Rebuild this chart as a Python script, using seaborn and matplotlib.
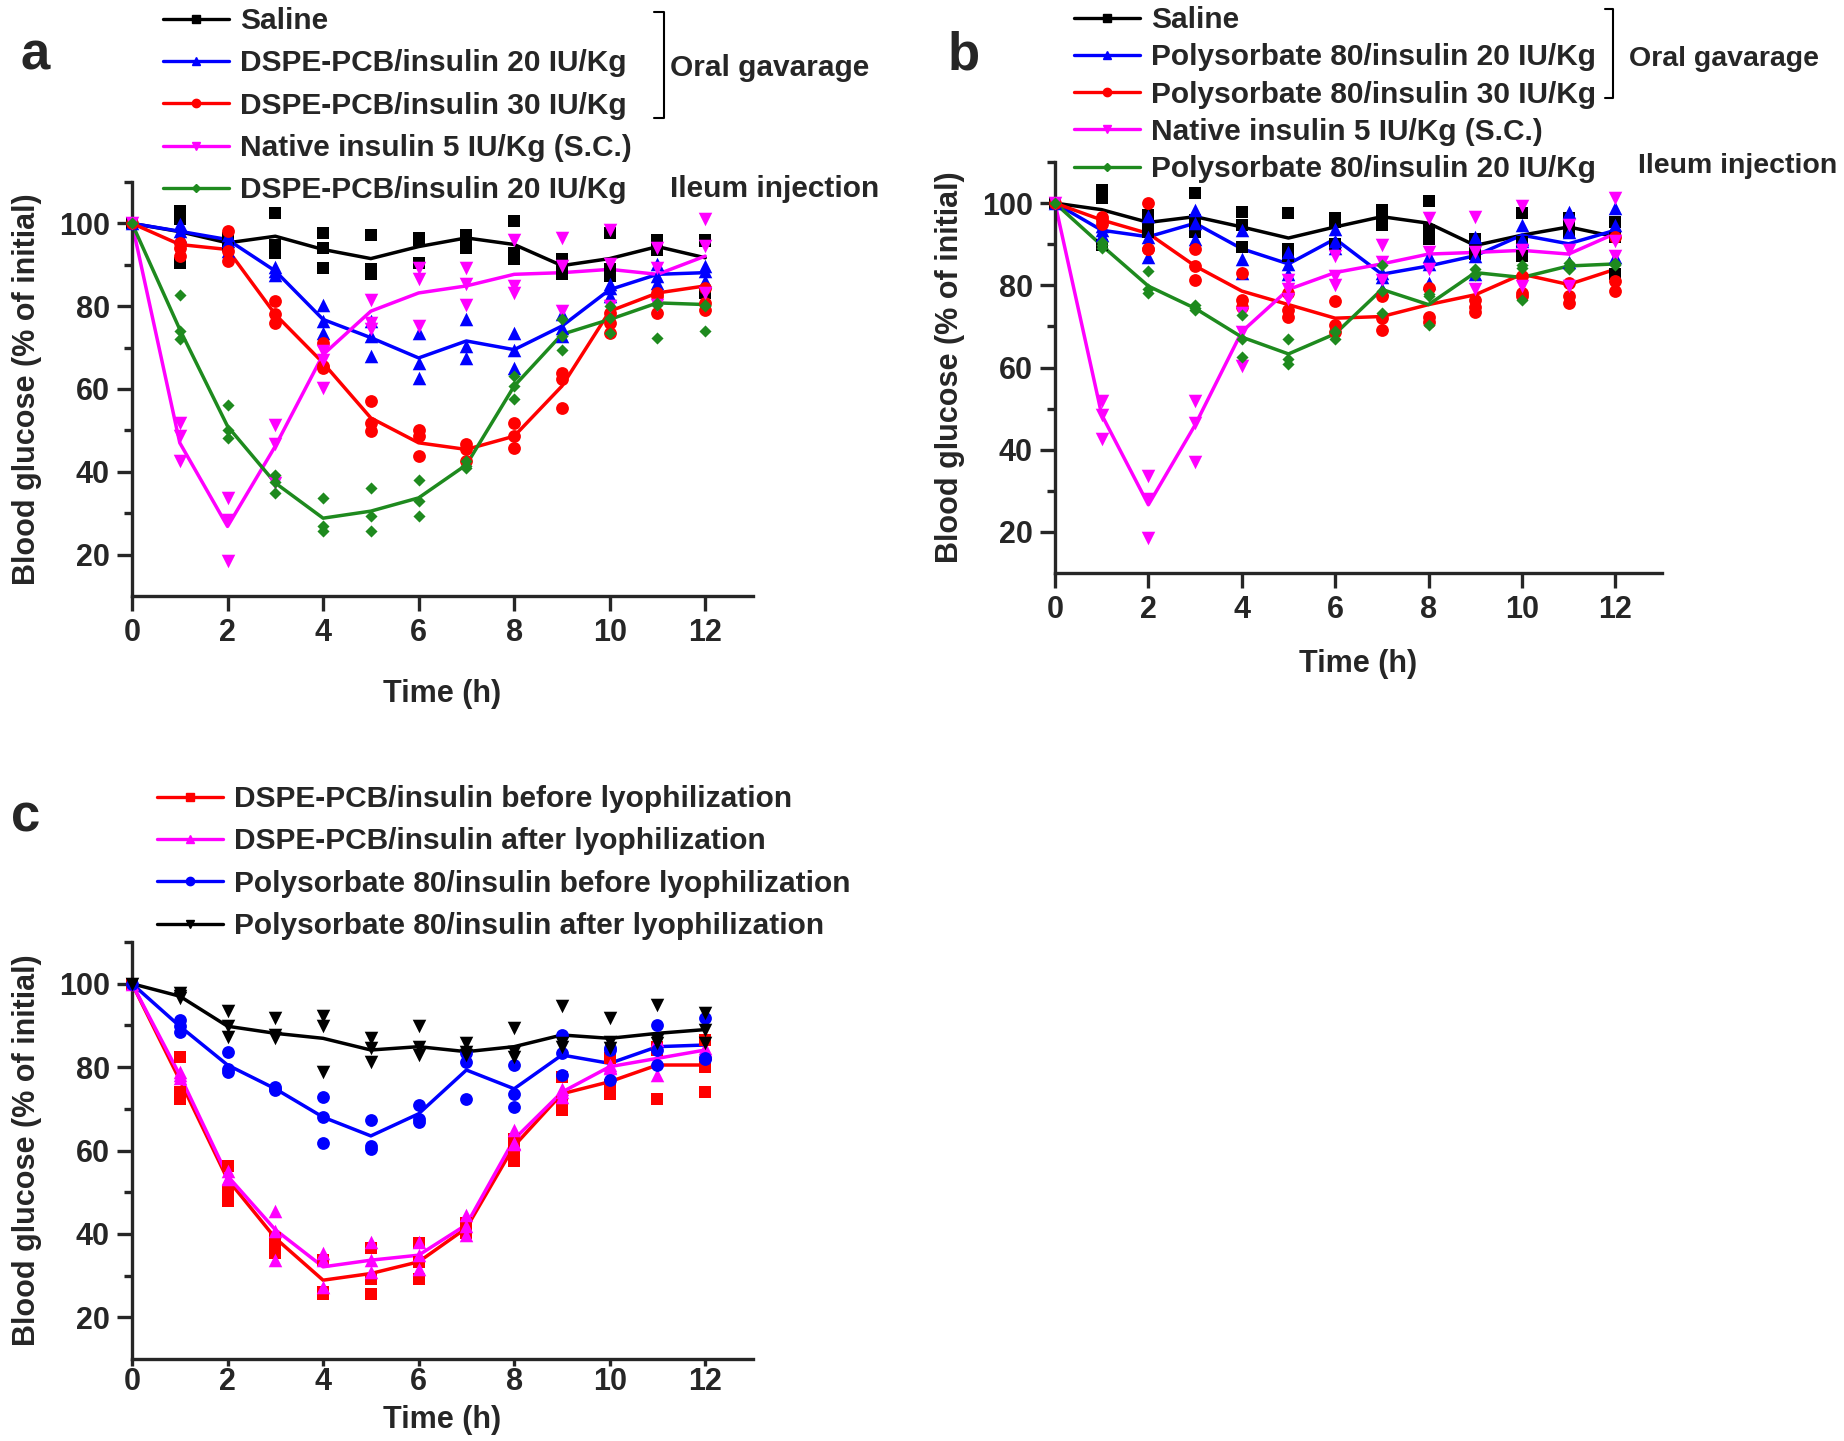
import matplotlib
matplotlib.use("Agg")
import pandas as pd
import matplotlib.pyplot as plt
from matplotlib.lines import Line2D
from matplotlib.ticker import FixedLocator
import seaborn as sns

sns.set_style("ticks")
plt.rcParams["font.family"] = ["Liberation Sans", "DejaVu Sans"]
plt.rcParams["font.weight"] = "bold"
plt.rcParams["axes.labelweight"] = "bold"

# time points (h)
time_h = list(range(13))

# ---- panel a : DSPE-PCB/insulin ----
a_saline_mean = [100, 98.0, 95.3, 96.9, 93.7, 91.5, 94.4, 96.5, 94.9, 89.8, 91.5, 94.4, 91.7]
a_saline_reps = [[100], [103.0, 101.0, 90.5], [96.5, 95.0, 94.5], [102.6, 94.9, 92.9],
                 [97.7, 94.1, 89.3], [97.3, 88.9, 87.7], [96.1, 96.5, 90.5], [97.3, 95.7, 94.1],
                 [100.6, 92.9, 91.3], [91.3, 89.7, 87.7], [97.7, 89.0, 87.3], [96.1, 93.7, 93.5],
                 [95.7, 96.0, 83.2]]
a_d20_mean = [100, 98.1, 96.1, 88.5, 76.8, 72.4, 67.5, 71.6, 69.5, 75.2, 84.0, 87.7, 88.1]
a_d20_reps = [[100], [99.8, 98.1, 96.9], [97.3, 95.7, 93.3], [89.5, 88.5, 87.5],
              [80.4, 76.5, 73.6], [76.4, 72.8, 67.9], [73.6, 66.2, 62.7], [76.8, 70.3, 67.5],
              [73.6, 69.5, 65.1], [78.0, 74.8, 72.8], [85.3, 84.3, 82.4], [90.1, 87.3, 85.7],
              [89.7, 88.6, 86.1]]
a_d30_mean = [100, 94.9, 93.7, 78.0, 66.3, 53.0, 47.0, 45.4, 48.6, 60.7, 78.8, 83.2, 84.9]
a_d30_reps = [[100], [95.3, 94.1, 92.1], [98.1, 93.3, 90.9], [81.2, 78.0, 76.0],
              [71.2, 65.5, 65.1], [57.1, 51.8, 49.8], [50.2, 48.6, 43.8], [46.6, 45.4, 42.5],
              [51.8, 48.6, 45.8], [63.9, 62.3, 55.4], [78.4, 76.0, 73.6], [83.2, 82.4, 78.4],
              [84.4, 80.8, 79.2]]
a_native_mean = [100, 47.0, 26.8, 46.2, 68.3, 78.8, 83.2, 84.9, 87.7, 88.1, 88.9, 87.7, 92.1]
a_native_reps = [[100], [51.8, 48.6, 42.5], [33.7, 28.3, 18.4], [51.4, 46.6, 37.3],
                 [69.1, 67.1, 60.3], [81.6, 76.0, 74.4], [89.3, 86.5, 75.2], [89.3, 85.3, 80.4],
                 [96.1, 84.9, 83.2], [96.5, 89.7, 78.8], [98.5, 90.1, 80.0], [94.1, 89.3, 80.4],
                 [101.0, 94.5, 83.2]]
a_ileum_mean = [100, 74.4, 51.0, 37.3, 28.8, 30.5, 33.7, 41.7, 60.7, 73.2, 76.8, 80.8, 80.4]
a_ileum_reps = [[100], [82.8, 74.0, 72.0], [56.2, 50.0, 48.2], [39.3, 37.5, 34.9],
                [33.7, 26.8, 25.6], [36.1, 29.3, 25.6], [38.1, 33.0, 29.3], [42.5, 41.3, 41.0],
                [63.1, 60.7, 57.5], [77.0, 72.8, 69.5], [80.0, 77.2, 73.6], [80.8, 80.4, 72.4],
                [80.4, 80.0, 74.0]]

# ---- panel b : Polysorbate 80/insulin ----
b_saline_mean = [100, 98.4, 95.3, 96.7, 94.2, 91.5, 94.2, 96.7, 95.1, 89.7, 92.2, 94.2, 91.8]
b_saline_reps = [[100], [103.3, 101.2, 89.7], [97.1, 93.8, 93.0], [102.5, 95.9, 93.0],
                 [97.9, 94.6, 89.3], [97.5, 88.9, 87.2], [96.3, 95.5, 90.1], [98.4, 96.3, 94.6],
                 [100.4, 93.4, 91.3], [91.3, 88.9, 87.6], [97.5, 90.5, 87.2], [96.3, 93.8, 93.0],
                 [95.5, 91.8, 82.7]]
b_p20_mean = [100, 93.4, 91.8, 95.1, 88.9, 85.2, 91.3, 82.7, 84.7, 87.2, 92.2, 90.1, 93.4]
b_p20_reps = [[100], [94.5, 93.4, 92.2], [96.8, 91.8, 86.8], [98.4, 95.1, 91.3],
              [93.4, 86.4, 83.1], [88.0, 85.2, 82.7], [93.8, 90.9, 89.0], [83.1, 81.9, 79.0],
              [87.2, 85.2, 80.6], [91.7, 87.2, 82.7], [94.6, 91.3, 90.7], [97.9, 93.0, 85.6],
              [98.8, 94.6, 86.8]]
b_p30_mean = [100, 95.9, 92.6, 84.7, 78.6, 75.3, 72.0, 72.4, 75.3, 77.7, 82.7, 80.2, 83.9]
b_p30_reps = [[100], [96.7, 95.9, 95.0], [100.0, 88.9, 88.9], [88.9, 84.7, 81.4],
              [83.1, 76.5, 74.8], [78.1, 74.0, 72.4], [76.1, 70.3, 68.7], [77.3, 72.0, 69.1],
              [79.4, 72.4, 71.1], [76.5, 74.8, 73.6], [82.3, 78.1, 77.3], [80.6, 77.3, 75.7],
              [91.8, 81.0, 78.6]]
b_native_mean = [100, 48.5, 26.6, 46.0, 68.7, 79.0, 83.1, 85.2, 87.6, 88.0, 88.5, 87.6, 92.6]
b_native_reps = [[100], [51.8, 48.5, 42.7], [33.6, 28.0, 18.4], [51.8, 46.4, 36.9],
                 [73.2, 68.7, 60.4], [81.4, 79.0, 76.6], [87.2, 82.3, 80.0], [89.7, 85.6, 81.4],
                 [96.3, 88.0, 83.9], [96.7, 88.0, 79.0], [99.2, 88.5, 79.8], [94.6, 88.5, 79.8],
                 [101.2, 90.9, 87.2]]
b_ileum_mean = [100, 89.7, 79.8, 74.4, 67.4, 63.3, 68.2, 79.0, 75.3, 83.1, 81.9, 84.7, 85.2]
b_ileum_reps = [[100], [90.5, 89.7, 89.0], [83.5, 79.0, 78.1], [75.3, 74.4, 74.0],
                [72.8, 67.0, 62.5], [67.0, 62.1, 60.8], [69.0, 68.7, 67.0], [85.0, 78.6, 73.2],
                [78.0, 77.5, 70.3], [84.0, 82.7, 82.5], [85.0, 84.3, 76.5], [85.5, 84.7, 84.0],
                [85.5, 85.2, 85.0]]

# ---- panel c : before / after lyophilization ----
c_dspe_before_mean = [100, 76.9, 53.1, 39.0, 28.9, 30.5, 33.3, 41.4, 61.1, 73.6, 76.5, 80.5, 80.5]
c_dspe_before_reps = [[100], [82.5, 74.0, 72.4], [56.3, 50.2, 47.8], [39.0, 36.5, 35.3],
                      [33.7, 26.0, 25.6], [36.5, 29.3, 25.6], [37.7, 33.3, 29.3], [42.6, 41.4, 40.2],
                      [62.7, 60.3, 57.5], [77.7, 71.6, 69.6], [82.1, 75.6, 73.6], [84.9, 84.1, 72.4],
                      [86.5, 80.1, 74.0]]
c_dspe_after_mean = [100, 78.1, 53.9, 41.0, 32.1, 33.7, 34.9, 42.2, 62.7, 74.0, 80.1, 82.1, 84.1]
c_dspe_after_reps = [[100], [78.9, 78.0, 77.3], [55.1, 53.5, 53.1], [45.4, 40.6, 33.7],
                     [35.3, 33.7, 27.3], [38.1, 33.7, 30.9], [38.0, 34.9, 31.7], [44.6, 42.0, 39.8],
                     [64.8, 61.9, 61.5], [74.8, 74.0, 72.8], [80.5, 80.0, 79.7], [86.5, 81.7, 78.1],
                     [84.5, 84.1, 83.7]]
c_p80_before_mean = [100, 89.8, 80.5, 74.8, 68.0, 63.5, 68.8, 79.3, 74.8, 82.9, 80.9, 84.9, 85.3]
c_p80_before_reps = [[100], [91.4, 89.8, 88.5], [83.7, 79.5, 78.9], [75.2, 74.8, 74.4],
                     [72.8, 68.0, 61.9], [67.2, 61.1, 60.3], [70.8, 67.6, 66.8], [83.3, 81.3, 72.4],
                     [80.5, 73.6, 70.4], [87.7, 83.3, 78.0], [84.5, 84.1, 76.9], [90.2, 84.1, 80.4],
                     [91.8, 82.1, 82.0]]
c_p80_after_mean = [100, 97.0, 89.8, 88.1, 86.9, 84.1, 84.9, 83.7, 84.9, 87.7, 86.9, 88.1, 89.0]
c_p80_after_reps = [[100], [97.8, 97.0, 96.6], [93.4, 89.8, 87.3], [91.8, 87.7, 86.9],
                    [92.2, 89.8, 78.9], [86.9, 84.5, 81.3], [89.8, 84.9, 82.9], [85.7, 83.7, 82.9],
                    [89.4, 83.7, 82.5], [94.6, 85.7, 84.9], [91.8, 86.1, 84.5], [95.0, 86.5, 85.7],
                    [93.0, 89.0, 85.7]]

BLACK, BLUE, RED, MAGENTA, GREEN = "#000000", "#0000FF", "#FF0000", "#FF00FF", "#1E8A1E"
MARKER_SIZE = {"s": 85, "^": 95, "o": 85, "v": 95, "D": 38}

panel_a = [
    ("Saline", BLACK, "s", a_saline_mean, a_saline_reps),
    ("DSPE-PCB/insulin 20 IU/Kg", BLUE, "^", a_d20_mean, a_d20_reps),
    ("DSPE-PCB/insulin 30 IU/Kg", RED, "o", a_d30_mean, a_d30_reps),
    ("Native insulin 5 IU/Kg (S.C.)", MAGENTA, "v", a_native_mean, a_native_reps),
    ("DSPE-PCB/insulin 20 IU/Kg", GREEN, "D", a_ileum_mean, a_ileum_reps),
]
panel_b = [
    ("Saline", BLACK, "s", b_saline_mean, b_saline_reps),
    ("Polysorbate 80/insulin 20 IU/Kg", BLUE, "^", b_p20_mean, b_p20_reps),
    ("Polysorbate 80/insulin 30 IU/Kg", RED, "o", b_p30_mean, b_p30_reps),
    ("Native insulin 5 IU/Kg (S.C.)", MAGENTA, "v", b_native_mean, b_native_reps),
    ("Polysorbate 80/insulin 20 IU/Kg", GREEN, "D", b_ileum_mean, b_ileum_reps),
]
panel_c = [
    ("DSPE-PCB/insulin before lyophilization", RED, "s", c_dspe_before_mean, c_dspe_before_reps),
    ("DSPE-PCB/insulin after lyophilization", MAGENTA, "^", c_dspe_after_mean, c_dspe_after_reps),
    ("Polysorbate 80/insulin before lyophilization", BLUE, "o", c_p80_before_mean, c_p80_before_reps),
    ("Polysorbate 80/insulin after lyophilization", BLACK, "v", c_p80_after_mean, c_p80_after_reps),
]

W, H = 1844, 1441
fig = plt.figure(figsize=(W / 100, H / 100), dpi=100)


def px_box(left, top, right, bottom):
    return [left / W, 1 - bottom / H, (right - left) / W, (bottom - top) / H]


def draw_panel(ax, series, xtick_len=11, xtick_pad=5, xlabelpad=22):
    for label, color, marker, mean, reps in series:
        df = pd.DataFrame([(t, v) for t, vals in zip(time_h, reps) for v in vals],
                          columns=["time", "glucose"])
        sns.lineplot(x=time_h, y=mean, color=color, linewidth=2.5, ax=ax, clip_on=False)
        sns.scatterplot(data=df, x="time", y="glucose", color=color, marker=marker,
                        s=MARKER_SIZE[marker], linewidth=0, ax=ax, clip_on=False, zorder=3)
    ax.set_xlim(0, 13)
    ax.set_ylim(10, 110)
    ax.set_xticks(range(0, 13, 2))
    ax.set_yticks(range(20, 101, 20))
    ax.yaxis.set_minor_locator(FixedLocator([30, 50, 70, 90, 110]))
    sns.despine(ax=ax)
    for sp in ("left", "bottom"):
        ax.spines[sp].set_linewidth(2.4)
    ax.tick_params(axis="y", which="major", labelsize=22, width=2.4, length=11, pad=5)
    ax.tick_params(axis="x", which="major", labelsize=22, width=2.4, length=xtick_len, pad=xtick_pad)
    ax.tick_params(axis="y", which="minor", width=2.4, length=6)
    for lab in ax.get_xticklabels() + ax.get_yticklabels():
        lab.set_fontweight("bold")
    ax.set_xlabel("Time (h)", fontsize=22, fontweight="bold", labelpad=xlabelpad)
    ax.set_ylabel("Blood glucose (% of initial)", fontsize=22, fontweight="bold", labelpad=12)


def add_legend(series, x, y, spacing):
    handles = [Line2D([0], [0], color=c, lw=2.4, marker=m, markersize=6 if m != "D" else 4.5)
               for _, c, m, _, _ in series]
    fig.legend(handles, [s[0] for s in series], loc="upper left", bbox_to_anchor=(x / W, 1 - y / H),
               frameon=False, borderpad=0, borderaxespad=0, handlelength=2.2, handletextpad=0.38,
               labelspacing=spacing, prop={"size": 21.5, "weight": "bold"})


def fig_line(xs, ys):
    fig.add_artist(Line2D([v / W for v in xs], [1 - v / H for v in ys], color="black", lw=1.5,
                          transform=fig.transFigure))


def fig_text(x, y, s, size=21.5, ha="left"):
    fig.text(x / W, 1 - y / H, s, fontsize=size, fontweight="bold", ha=ha, va="center")


ax_a = fig.add_axes(px_box(132, 182, 753, 596))
ax_b = fig.add_axes(px_box(1055, 162, 1662, 573))
ax_c = fig.add_axes(px_box(132, 942, 753, 1359))

draw_panel(ax_a, panel_a)
draw_panel(ax_b, panel_b, xlabelpad=17)
draw_panel(ax_c, panel_c, xtick_len=5, xtick_pad=0.5, xlabelpad=6)

add_legend(panel_a, 163, 7, 0.48)
add_legend(panel_b, 1074, 6, 0.31)
add_legend(panel_c, 157, 785, 0.48)

# group brackets and labels
fig_line([654, 664, 664, 654], [12, 12, 118, 118])
fig_text(670, 68, "Oral gavarage")
fig_text(670, 189, "Ileum injection")
fig_line([1605, 1613, 1613, 1605], [9, 9, 98, 98])
fig_text(1629, 59, "Oral gavarage", size=20.5)
fig_text(1638, 166, "Ileum injection", size=20.5)

# panel letters
fig_text(35, 55, "a", size=38, ha="center")
fig_text(964, 55, "b", size=38, ha="center")
fig_text(26, 817, "c", size=38, ha="center")

fig.savefig("out.png", dpi=100)
